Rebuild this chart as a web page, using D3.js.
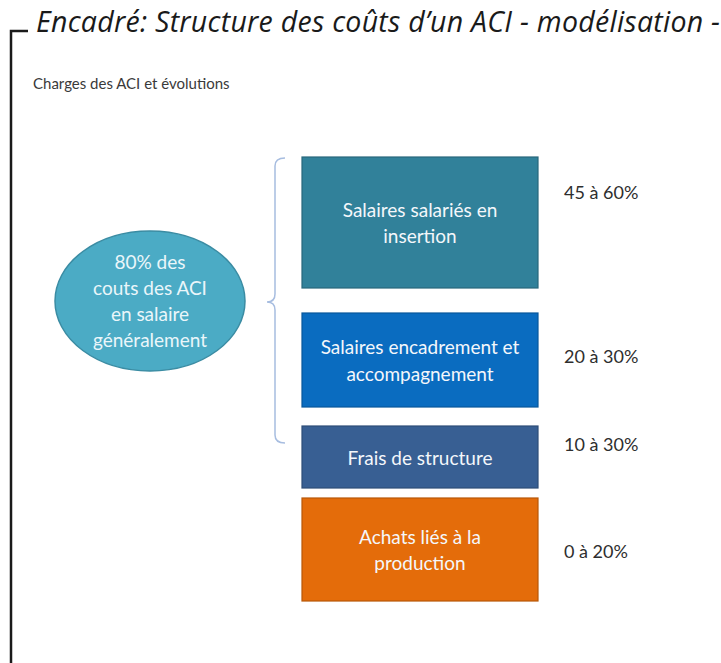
<!DOCTYPE html>
<html>
<head>
<meta charset="utf-8">
<script src="https://cdn.jsdelivr.net/npm/d3@7"></script>
<style>
  body { margin: 0; background: #fff; }
  svg { display: block; }
</style>
</head>
<body>
<svg id="chart" width="721" height="663"></svg>
<script>
// data
var title = "Encadré: Structure des coûts d\u2019un ACI - modélisation -";
var subtitle = "Charges des ACI et évolutions";
var summaryLines = ["80% des", "couts des ACI", "en salaire", "généralement"];
var categories = [
  ["Salaires salariés en", "insertion"],
  ["Salaires encadrement et", "accompagnement"],
  ["Frais de structure"],
  ["Achats liés à la", "production"]
];
var shareLabels = ["45 à 60%", "20 à 30%", "10 à 30%", "0 à 20%"];
var shareLow = [45, 20, 10, 0];
var shareHigh = [60, 30, 30, 20];

var svg = d3.select("#chart");
var W = 721, H = 663;

var colors = d3.scaleOrdinal()
    .domain(d3.range(categories.length))
    .range(["#31819a", "#0a6cc0", "#385f93", "#e46c0a"]);

// layout of the stacked boxes (top / bottom in px)
var rows = [[157, 288], [313, 407], [426, 488], [498, 601]];
var x = d3.scaleLinear().domain([0, 1]).range([302, 538]);

// frame
svg.append("path")
    .attr("d", "M28,31 H11 V" + H)
    .attr("fill", "none")
    .attr("stroke", "#1a1a1a")
    .attr("stroke-width", 2.5);

svg.append("text")
    .attr("x", 36).attr("y", 32)
    .attr("font-family", "Open Sans")
    .attr("font-style", "italic")
    .attr("font-size", 28.5)
    .attr("textLength", 684)
    .attr("lengthAdjust", "spacing")
    .attr("fill", "#1a1a1a")
    .text(title);

svg.append("text")
    .attr("x", 33).attr("y", 89)
    .attr("font-family", "Lato")
    .attr("font-size", 15)
    .attr("fill", "#3a3a3a")
    .text(subtitle);

// ellipse
var ell = svg.append("g").attr("transform", "translate(150,301)");
ell.append("ellipse")
    .attr("rx", 95).attr("ry", 70)
    .attr("fill", "#4babc5")
    .attr("stroke", "#3b8ca3")
    .attr("stroke-width", 1.5);
ell.selectAll("text")
    .data(summaryLines)
    .join("text")
    .attr("text-anchor", "middle")
    .attr("y", function (d, i) { return (i - 1.5) * 25.7 + 7; })
    .attr("font-family", "Lato")
    .attr("font-size", 19)
    .attr("fill", "#eaf6fa")
    .text(function (d) { return d; });

// brace
svg.append("path")
    .attr("d", "M285,158 Q275,158 275,166 L275,294 Q275,302 267,302 Q275,302 275,310 L275,435 Q275,443 285,443")
    .attr("fill", "none")
    .attr("stroke", "#a7bde0")
    .attr("stroke-width", 1.5);

// boxes
var boxes = svg.selectAll("g.box")
    .data(categories)
    .join("g")
    .attr("class", "box");

boxes.append("rect")
    .attr("x", x(0))
    .attr("y", function (d, i) { return rows[i][0]; })
    .attr("width", x(1) - x(0))
    .attr("height", function (d, i) { return rows[i][1] - rows[i][0]; })
    .attr("fill", function (d, i) { return colors(i); })
    .attr("stroke", function (d, i) { return d3.color(colors(i)).darker(0.6); })
    .attr("stroke-width", 1.2);

boxes.each(function (lines, i) {
  var cy = (rows[i][0] + rows[i][1]) / 2 + 1.5;
  d3.select(this).selectAll("text")
      .data(lines)
      .join("text")
      .attr("x", (x(0) + x(1)) / 2)
      .attr("y", function (d, j) { return cy + (j - (lines.length - 1) / 2) * 26.5 + 6; })
      .attr("text-anchor", "middle")
      .attr("font-family", "Lato")
      .attr("font-size", 19)
      .attr("fill", "#f4f7fb")
      .text(function (d) { return d; });
});

// share labels
var labelY = [193, 357, 445, 552];
svg.selectAll("text.share")
    .data(shareLabels)
    .join("text")
    .attr("class", "share")
    .attr("x", 564)
    .attr("y", function (d, i) { return labelY[i] + 6; })
    .attr("font-family", "Lato")
    .attr("font-size", 18)
    .attr("fill", "#2e2e2e")
    .text(function (d) { return d; });
</script>
</body>
</html>
